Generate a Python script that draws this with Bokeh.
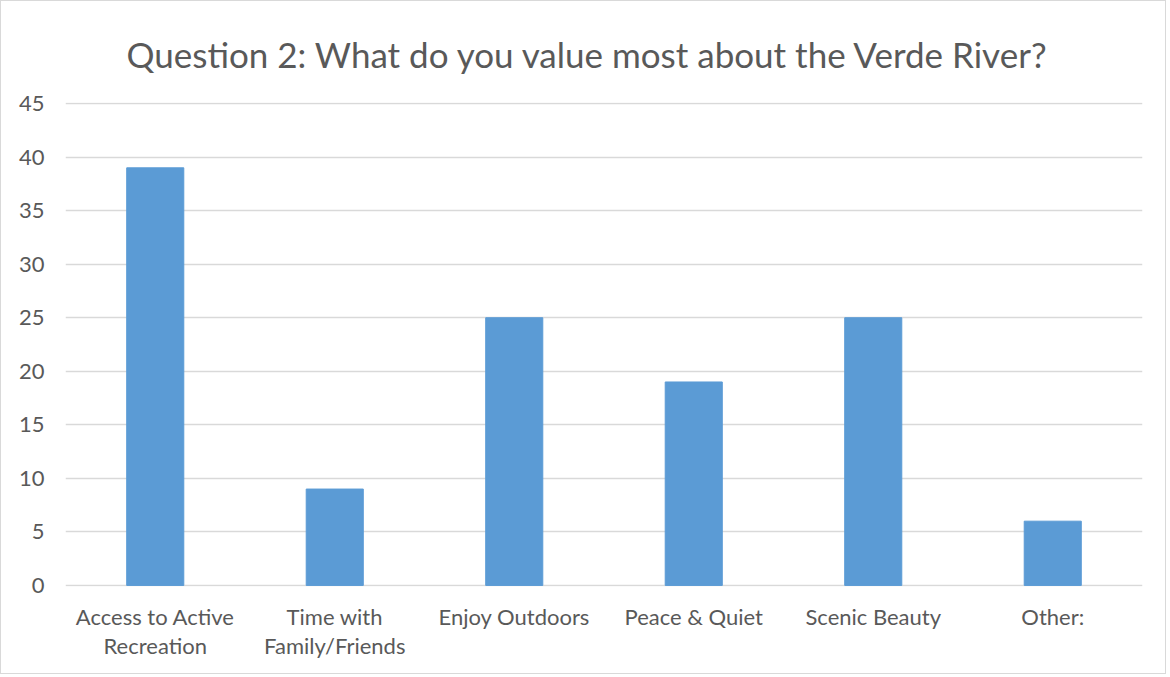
from bokeh.plotting import figure
from bokeh.embed import file_html
from bokeh.resources import INLINE
from bokeh.models import FixedTicker

categories = ["Access to Active\nRecreation", "Time with\nFamily/Friends", "Enjoy Outdoors",
              "Peace & Quiet", "Scenic Beauty", "Other:"]
values = [39, 9, 25, 19, 25, 6]
y_ticks = [0, 5, 10, 15, 20, 25, 30, 35, 40, 45]
title_text = "Question 2:  What do you value most about the Verde River?"

FONT = "Lato"
TXT = "#595959"
GRID = "#D9D9D9"

p = figure(x_range=categories, y_range=(-0.1, 45.1), width=1166, height=674,
           output_backend="svg", toolbar_location=None,
           min_border_left=64, min_border_right=25, min_border_bottom=89, min_border_top=101)
p.styles = {"border": "1px solid #D9D9D9"}

p.title.text = title_text
p.title.align = "left"
p.title.text_font = FONT
p.title.text_font_size = "35px"
p.title.text_font_style = "normal"
p.title.text_color = TXT
p.title.offset = 61
p.title.standoff = 55

p.vbar(x=categories, top=values, width=0.318, color="#5B9BD5")

p.outline_line_color = None
p.xgrid.grid_line_color = None
p.ygrid.grid_line_color = GRID
p.ygrid.grid_line_width = 1.5
p.yaxis.ticker = FixedTicker(ticks=y_ticks)

for ax in (p.xaxis, p.yaxis):
    ax.axis_line_color = None
    ax.major_tick_line_color = None
    ax.minor_tick_line_color = None
    ax.major_label_text_font = FONT
    ax.major_label_text_font_size = "22px"
    ax.major_label_text_color = TXT

p.xaxis.major_label_standoff = 10
p.xaxis.major_label_text_line_height = 1.08
p.yaxis.major_label_standoff = 15

open("out.html", "w").write(file_html(p, INLINE))
